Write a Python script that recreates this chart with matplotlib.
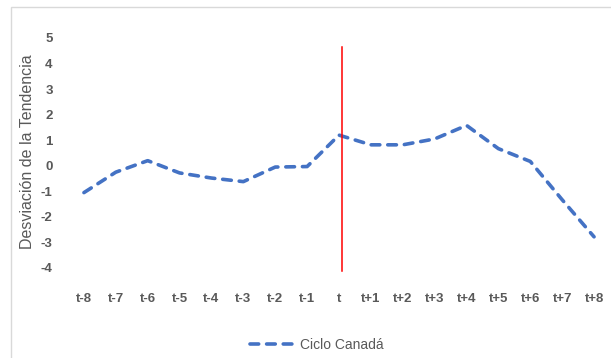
#!/usr/bin/env python3

"""Ciclo Canadá: desviación de la tendencia alrededor de t."""

import matplotlib
matplotlib.use("Agg")
import matplotlib.pyplot as plt
from matplotlib.patches import Rectangle

periods = ["t-8", "t-7", "t-6", "t-5", "t-4", "t-3", "t-2", "t-1", "t",
           "t+1", "t+2", "t+3", "t+4", "t+5", "t+6", "t+7", "t+8"]
ciclo_canada = [-1.05, -0.25, 0.2, -0.28, -0.48, -0.62, -0.05, -0.03, 1.2,
                0.82, 0.82, 1.05, 1.58, 0.67, 0.17, -1.33, -2.78]
marker_period = "t"
marker_span = [-4.1, 4.65]
y_ticks = list(range(-4, 6))

GRAY = "#595959"


def main():
    plt.rcParams["font.family"] = ["Liberation Sans", "DejaVu Sans"]
    plt.rcParams["axes.unicode_minus"] = False
    fig = plt.figure(figsize=(6.11, 3.58), dpi=100)
    ax = fig.add_axes([68 / 611, 1 - 268 / 358, 542 / 611, 230 / 358])

    # chart border
    fig.patches.append(Rectangle((10.5 / 611, -0.1), 1.1, 1 - 7.5 / 358 + 0.1,
                                 transform=fig.transFigure, fill=False,
                                 edgecolor="#D9D9D9", linewidth=1.0))

    x = list(range(len(periods)))
    ax.plot(x, ciclo_canada, color="#4472C4", linewidth=2.6,
            linestyle=(0, (2.4, 2.2)), dash_capstyle="round",
            solid_capstyle="round", label="Ciclo Canadá")
    xm = periods.index(marker_period)
    ax.plot([xm + 0.1, xm + 0.1], marker_span, color="#FF0000", linewidth=1.1,
            clip_on=False)

    ax.set_xlim(-0.5, len(periods) - 0.5)
    ax.set_ylim(y_ticks[0], y_ticks[-1])
    ax.set_xticks(x)
    ax.set_xticklabels(periods)
    ax.set_yticks(y_ticks)
    ax.tick_params(length=0, colors=GRAY, labelsize=9.5)
    ax.tick_params(axis="x", pad=18)
    ax.tick_params(axis="y", pad=11)
    for lab in ax.get_xticklabels() + ax.get_yticklabels():
        lab.set_fontweight("bold")
    for s in ax.spines.values():
        s.set_visible(False)

    fig.text(28 / 611, 1 - 152 / 358, "Desviación de la Tendencia", rotation=90,
             ha="center", va="center", fontsize=11.5, color=GRAY)

    leg = fig.legend(loc="center", bbox_to_anchor=(317 / 611, 1 - 345 / 358),
                     frameon=False, fontsize=10, handlelength=3.0,
                     handletextpad=0.6)
    for t in leg.get_texts():
        t.set_color(GRAY)

    fig.savefig("out.png", dpi=100)
    plt.close(fig)


if __name__ == "__main__":
    main()
